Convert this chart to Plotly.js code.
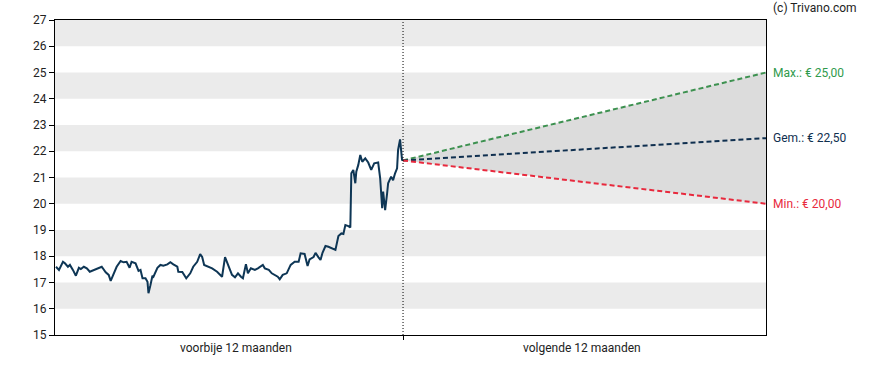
<!DOCTYPE html>
<html>
<head>
<meta charset="utf-8">
<script src="https://cdn.plot.ly/plotly-3.0.1.min.js"></script>
<style>
  html, body { margin: 0; padding: 0; background: #fff; }
  #chart { width: 888px; height: 370px; }
</style>
</head>
<body>
<div id="chart"></div>
<script>
// Past 12 months: day offset (0 = today) and closing price (EUR)
const pastDays = [-349,-346,-342,-340,-337,-335,-332,-329,-326,-324,-321,-318,-315,-311,-308,-303,-299,-296,-294,-291,-288,-284,-281,-278,-275,-273,-269,-266,-264,-262,-259,-257,-256,-254,-252,-251,-247,-244,-241,-237,-234,-231,-227,-226,-222,-218,-214,-211,-207,-204,-202,-200,-196,-192,-187,-182,-179,-176,-174,-172,-169,-166,-163,-161,-158,-156,-153,-149,-146,-141,-139,-135,-132,-129,-126,-124,-121,-117,-113,-109,-105,-103,-99,-96,-94,-90,-88,-85,-83,-81,-78,-75,-71,-68,-65,-62,-60,-58,-55,-53,-52,-50,-48,-47,-45,-43,-41,-38,-35,-32,-29,-25,-23,-21,-20,-18,-16,-15,-12,-10,-8,-6,-5,-3,-1,0];
const pastPrice = [17.60,17.48,17.79,17.73,17.60,17.67,17.48,17.26,17.56,17.51,17.60,17.54,17.41,17.48,17.54,17.60,17.39,17.29,17.06,17.35,17.60,17.82,17.77,17.79,17.56,17.79,17.73,17.44,17.48,17.16,17.16,17.03,16.59,16.90,17.26,17.22,17.56,17.67,17.64,17.69,17.77,17.69,17.60,17.41,17.40,17.16,17.35,17.60,17.79,18.08,17.97,17.67,17.60,17.54,17.41,17.22,17.97,17.67,17.41,17.29,17.20,17.35,17.22,17.16,17.70,17.35,17.54,17.48,17.54,17.67,17.54,17.48,17.35,17.29,17.22,17.12,17.29,17.35,17.67,17.79,17.79,18.11,18.09,17.63,17.88,17.97,18.13,17.96,17.86,18.13,18.39,18.36,18.30,18.24,18.77,18.87,18.85,19.19,19.15,19.10,21.16,21.29,20.78,21.22,21.48,21.86,21.60,21.73,21.57,21.29,21.54,21.57,20.97,19.83,20.46,19.76,20.40,20.78,21.03,20.90,21.16,21.35,22.05,22.45,21.67,21.65];

// Next 12 months: analyst targets
const futureDays = [0, 365];
const targetMax = [21.65, 25.00];
const targetAvg = [21.65, 22.50];
const targetMin = [21.65, 20.00];
const targetLabels = ["Max.: € 25,00", "Gem.: € 22,50", "Min.: € 20,00"];
const targetEnd = [25.00, 22.50, 20.00];
const targetColors = ["#2f9a4c", "#0f2f4f", "#e8293d"];

const periodLabels = ["voorbije 12 maanden", "volgende 12 maanden"];
const periodCenters = [-168, 180];
const yTicks = [15,16,17,18,19,20,21,22,23,24,25,26,27];
const bandStarts = [16,18,20,22,24,26];

const traces = [
  { x: futureDays, y: targetMin, mode: 'lines', line: {width: 0, color: 'rgba(0,0,0,0)'}, hoverinfo: 'skip', showlegend: false },
  { x: futureDays, y: targetMax, mode: 'lines', line: {width: 0, color: 'rgba(0,0,0,0)'}, fill: 'tonexty', fillcolor: '#dcdcdc', hoverinfo: 'skip', showlegend: false },
  { x: futureDays, y: targetMax, mode: 'lines', line: {width: 2, color: '#3d9150', dash: '5px,3px'}, showlegend: false },
  { x: futureDays, y: targetAvg, mode: 'lines', line: {width: 2, color: '#0f2f4f', dash: '5px,3px'}, showlegend: false },
  { x: futureDays, y: targetMin, mode: 'lines', line: {width: 2, color: '#e8293d', dash: '5px,3px'}, showlegend: false },
  { x: pastDays, y: pastPrice, mode: 'lines', line: {width: 2, color: '#0e3655'}, showlegend: false }
];

const shapes = bandStarts.map(b => ({
  type: 'rect', xref: 'paper', yref: 'y', x0: 0, x1: 1, y0: b, y1: b + 1,
  fillcolor: '#ebebeb', line: {width: 0}, layer: 'below'
}));
shapes.push({
  type: 'line', xref: 'x', yref: 'paper', x0: 0, x1: 0, y0: 0, y1: 1,
  line: {color: '#000', width: 1, dash: '1px,2px'}
});

const annotations = [];
periodLabels.forEach((t, i) => annotations.push({
  x: periodCenters[i], y: 0, xref: 'x', yref: 'paper', text: t, showarrow: false,
  yanchor: 'middle', yshift: -13, font: {family: 'Roboto', size: 12, color: '#222'}
}));
targetLabels.forEach((t, i) => annotations.push({
  x: 1, y: targetEnd[i], xref: 'paper', yref: 'y', text: t, showarrow: false,
  xanchor: 'left', yanchor: 'middle', xshift: 5,
  font: {family: 'Roboto', size: 12, color: targetColors[i]}
}));
annotations.push({
  x: 1, y: 1, xref: 'paper', yref: 'paper', text: '(c) Trivano.com', showarrow: false,
  xanchor: 'left', yanchor: 'middle', xshift: 5, yshift: 12,
  font: {family: 'Roboto', size: 12, color: '#222'}
});

const layout = {
  width: 888, height: 370,
  margin: {l: 55, r: 122, t: 20, b: 35, pad: 0},
  paper_bgcolor: '#fff', plot_bgcolor: '#fff',
  xaxis: {
    range: [-350, 365], showgrid: false, zeroline: false,
    showline: true, mirror: true, linecolor: '#000', linewidth: 1,
    tickmode: 'array', tickvals: [0], ticktext: [''], ticks: 'outside', ticklen: 4, tickcolor: '#000'
  },
  yaxis: {
    range: [15, 27], showgrid: false, zeroline: false,
    showline: true, mirror: true, linecolor: '#000', linewidth: 1,
    tickmode: 'array', tickvals: yTicks, ticks: 'outside', ticklen: 5, tickcolor: '#000',
    tickfont: {family: 'Roboto', size: 12, color: '#222'}
  },
  shapes: shapes,
  annotations: annotations,
  showlegend: false
};

Plotly.newPlot('chart', traces, layout, {displayModeBar: false, staticPlot: true});
</script>
</body>
</html>
